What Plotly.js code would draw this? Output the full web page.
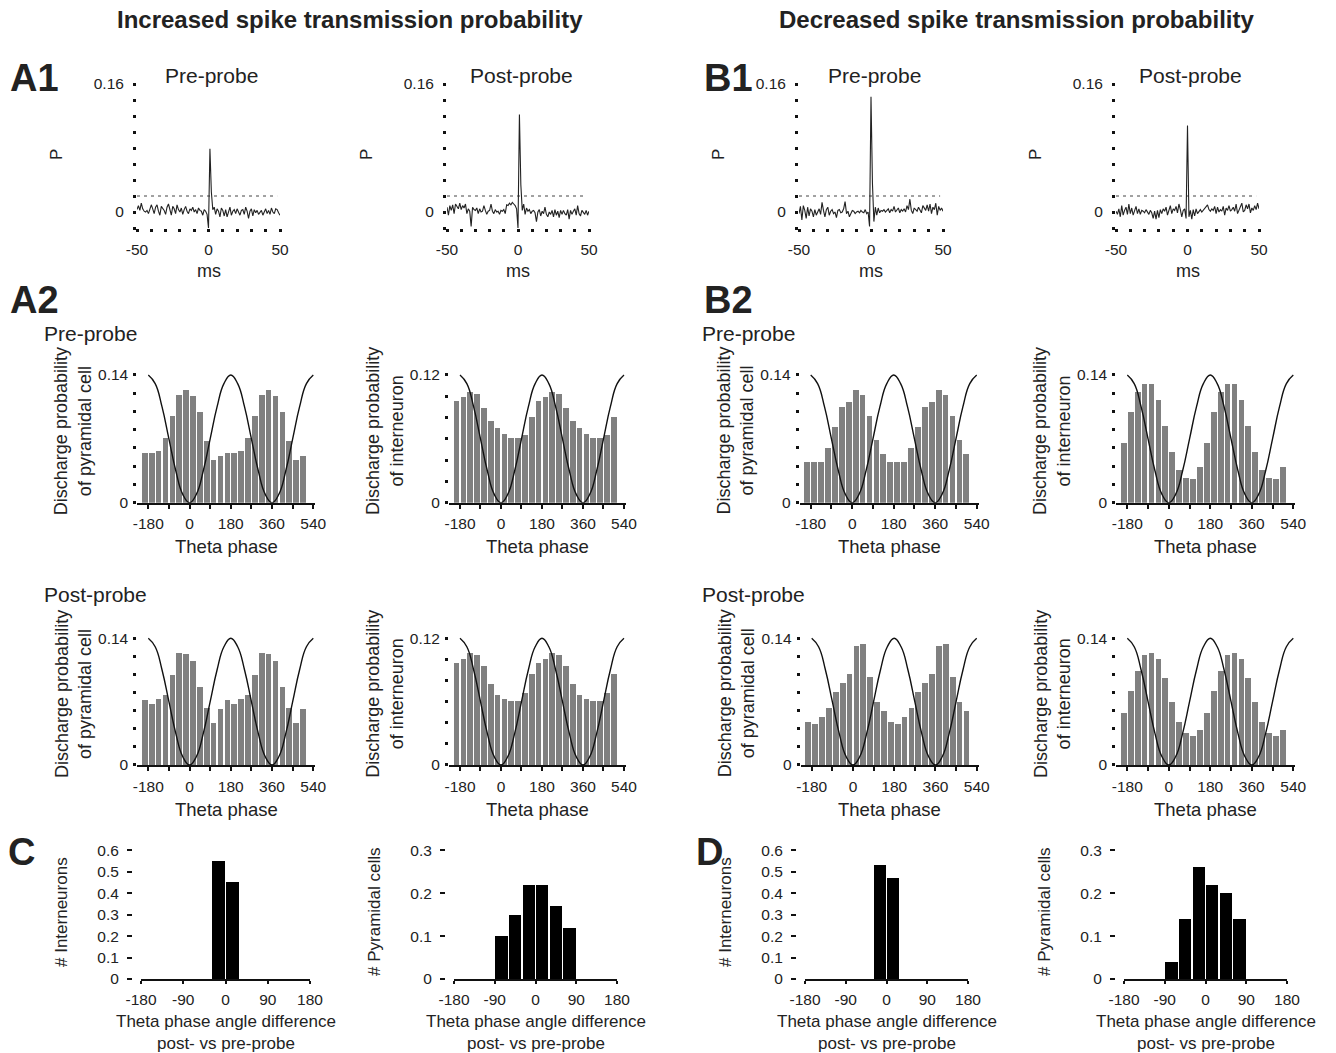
<!DOCTYPE html>
<html><head><meta charset="utf-8">
<script src="https://cdn.plot.ly/plotly-3.0.1.min.js"></script>
<style>html,body{margin:0;padding:0;background:#fff}#chart{width:1336px;height:1053px}</style>
</head><body><div id="chart"></div>
<script>
// ---------------- DATA ----------------
// Cross-correlogram lags (ms)
const lagMs = [-50,-49,-48,-47,-46,-45,-44,-43,-42,-41,-40,-39,-38,-37,-36,-35,-34,-33,-32,-31,-30,-29,-28,-27,-26,-25,-24,-23,-22,-21,-20,-19,-18,-17,-16,-15,-14,-13,-12,-11,-10,-9,-8,-7,-6,-5,-4,-3,-2,-1,0,1,2,3,4,5,6,7,8,9,10,11,12,13,14,15,16,17,18,19,20,21,22,23,24,25,26,27,28,29,30,31,32,33,34,35,36,37,38,39,40,41,42,43,44,45,46,47,48,49,50];
const ccgA1Pre = [0.003,0.008,0.002,0.011,0.004,0.001,0.000,0.002,-0.002,0.003,
  0.009,0.004,-0.002,0.006,0.009,0.001,-0.004,0.007,0.005,0.002,
  -0.003,0.006,0.010,0.001,-0.004,0.007,0.004,-0.002,0.009,0.003,
  0.000,0.005,-0.003,0.003,0.007,0.001,-0.002,0.004,0.002,0.006,
  0.000,0.003,-0.002,0.005,0.002,0.001,-0.004,0.003,0.001,-0.003,
  -0.020,
  0.079,0.025,0.003,0.006,-0.003,0.004,0.001,-0.006,0.005,0.002,
  -0.005,0.003,-0.006,0.002,0.006,-0.004,0.001,0.003,-0.002,0.004,
  0.000,-0.004,0.002,0.003,-0.003,0.006,0.001,-0.008,0.001,0.004,
  -0.005,0.003,-0.001,0.002,-0.003,-0.001,0.002,-0.004,0.001,0.004,
  -0.002,0.002,-0.003,0.005,0.000,-0.002,0.004,0.003,-0.001,-0.004];
const ccgA1Post = [0.006,-0.004,0.008,0.002,0.009,-0.002,0.010,0.006,0.004,0.011,
  0.003,0.008,0.005,0.010,-0.002,0.004,0.001,-0.018,0.006,0.003,
  0.002,0.005,-0.002,0.004,0.000,0.001,0.008,0.002,-0.003,0.001,
  0.002,0.010,0.001,-0.002,0.003,0.000,0.001,-0.003,0.002,0.001,
  0.003,-0.002,0.009,0.008,0.011,0.009,0.012,0.010,0.008,0.004,
  -0.020,
  0.122,0.034,0.002,0.010,-0.003,0.005,0.001,0.003,-0.002,0.001,
  0.002,-0.001,-0.012,0.000,0.003,-0.005,0.001,-0.002,0.006,-0.003,
  -0.006,0.000,-0.003,0.002,-0.006,0.003,-0.004,0.001,-0.007,0.002,
  -0.003,0.002,-0.002,-0.004,0.003,-0.009,0.002,-0.003,0.001,0.004,
  -0.004,0.008,-0.002,-0.005,0.002,0.000,-0.003,0.002,-0.004,0.001];
const ccgB1Pre = [-0.002,0.007,-0.010,0.008,0.002,-0.008,0.006,-0.005,0.004,0.001,
  -0.006,0.003,-0.004,0.000,0.004,-0.003,0.012,0.002,-0.006,0.003,
  0.006,-0.004,0.001,0.003,-0.002,0.000,-0.007,0.002,0.003,-0.001,
  0.000,0.004,0.013,-0.002,0.001,-0.006,-0.001,0.002,0.001,-0.002,
  0.000,0.001,-0.001,0.002,0.000,-0.001,0.003,-0.002,0.000,-0.018,
  0.144,
  0.036,-0.012,0.006,-0.004,0.005,-0.001,0.002,0.001,0.003,0.000,
  0.002,0.004,-0.001,0.003,0.001,0.007,0.000,0.002,0.005,-0.001,
  0.003,0.001,0.004,0.000,0.008,0.003,0.016,0.002,-0.002,0.005,
  0.003,0.001,0.006,0.002,-0.001,0.008,0.004,0.002,0.009,0.001,
  0.010,-0.002,0.006,0.003,0.011,-0.004,0.007,0.002,0.005,0.001];
const ccgB1Post = [0.001,-0.003,0.004,-0.006,0.008,-0.004,0.002,0.006,-0.003,0.010,
  -0.002,0.005,-0.004,0.003,0.007,-0.002,0.004,-0.003,0.002,0.001,
  -0.001,0.003,0.000,-0.003,0.002,-0.001,-0.008,0.001,-0.009,0.002,
  -0.007,0.003,-0.002,0.004,0.001,0.006,-0.004,0.003,0.008,-0.002,
  0.004,0.002,0.007,-0.001,0.010,0.003,-0.006,0.002,0.004,-0.008,
  0.108,
  -0.006,0.002,-0.009,0.003,-0.005,0.004,-0.002,0.001,0.003,0.000,
  0.002,0.004,0.006,0.009,0.003,0.001,0.004,0.002,0.007,-0.002,
  0.006,0.000,0.003,0.001,0.007,-0.004,0.005,0.002,0.008,0.001,
  0.003,0.006,0.001,0.010,-0.002,0.003,0.007,0.011,0.000,0.002,
  0.009,0.004,0.010,-0.001,0.005,0.002,0.008,0.003,0.011,0.004];
const ccgThreshold = 0.02;

// Theta phase bins (deg), two cycles shown (-195 ... 495, 30 deg bins)
const phaseBins = [-195,-165,-135,-105,-75,-45,-15,15,45,75,105,135,165,195,225,255,285,315,345,375,405,435,465,495];
// one-cycle discharge probabilities (12 bins), plotted twice
const pyrPreA   = [0.0548,0.0550,0.0570,0.0705,0.0954,0.1180,0.1240,0.1170,0.0998,0.0676,0.0468,0.0512];
const intPreA   = [0.0956,0.0990,0.1044,0.1022,0.0893,0.0771,0.0699,0.0648,0.0605,0.0605,0.0636,0.0802];
const pyrPostA  = [0.0718,0.0670,0.0726,0.0774,0.0995,0.1234,0.1223,0.1153,0.0866,0.0626,0.0468,0.0615];
const intPostA  = [0.0969,0.1000,0.1064,0.1042,0.0938,0.0764,0.0663,0.0628,0.0603,0.0609,0.0679,0.0859];
const pyrPreB   = [0.0450,0.0450,0.0450,0.0596,0.0826,0.1045,0.1100,0.1235,0.1180,0.0950,0.0687,0.0530];
const intPreB   = [0.0658,0.0990,0.1210,0.1300,0.1300,0.1130,0.0841,0.0552,0.0358,0.0267,0.0260,0.0395];
const pyrPostB  = [0.0479,0.0453,0.0534,0.0626,0.0810,0.0910,0.1006,0.1315,0.1337,0.0969,0.0700,0.0600];
const intPostB  = [0.0571,0.0818,0.1043,0.1216,0.1234,0.1168,0.0958,0.0693,0.0479,0.0357,0.0320,0.0387];
// Reference theta wave (normalised, trough at 0 and 360 deg)
const wavePhase = [-180,-150,-120,-90,-60,-30,0,30,60,90,120,150,180,210,240,270,300,330,360,390,420,450,480,510,540];
const waveLevel = [1,0.933,0.75,0.5,0.25,0.067,0,0.067,0.25,0.5,0.75,0.933,1,0.933,0.75,0.5,0.25,0.067,0,0.067,0.25,0.5,0.75,0.933,1];

// Phase-angle difference histograms (post- vs pre-probe)
const diffBins = [-165,-135,-105,-75,-45,-15,15,45,75,105,135,165];
const diffIntC = [0,0,0,0,0,0.55,0.45,0,0,0,0,0];
const diffPyrC = [0,0,0,0.10,0.15,0.22,0.22,0.17,0.12,0,0,0];
const diffIntD = [0,0,0,0,0,0.53,0.47,0,0,0,0,0];
const diffPyrD = [0,0,0,0.04,0.14,0.26,0.22,0.20,0.14,0,0,0];

// ---------------- LAYOUT HELPERS ----------------
const W = 1336, H = 1053;
const FONT = 'Liberation Sans, Arial, Helvetica, sans-serif';
const TICK = 15.5;
const fx = p => p / W;
const fy = p => 1 - p / H;
const layout = {
  width: W, height: H, margin: {l:0, r:0, t:0, b:0},
  paper_bgcolor: '#fff', plot_bgcolor: 'rgba(0,0,0,0)',
  showlegend: false, font: {family: FONT, size: TICK, color: '#222'},
  annotations: [], bargap: 0
};
const data = [];
let axN = 0;
function addAxes(xpx, ypx, xo, yo) {
  axN++;
  const s = axN === 1 ? '' : String(axN);
  layout['xaxis' + s] = Object.assign({
    domain: [fx(xpx[0]), fx(xpx[1])], anchor: 'y' + s,
    showgrid: false, zeroline: false, fixedrange: true,
    tickfont: {family: FONT, size: TICK, color: '#222'}, tickcolor: '#111'
  }, xo);
  layout['yaxis' + s] = Object.assign({
    domain: [fy(ypx[1]), fy(ypx[0])], anchor: 'x' + s,
    showgrid: false, zeroline: false, fixedrange: true,
    tickfont: {family: FONT, size: TICK, color: '#222'}, tickcolor: '#111'
  }, yo);
  return {x: 'x' + s, y: 'y' + s};
}
function ann(text, xp, yp, opts) {
  layout.annotations.push(Object.assign({
    text: text, x: fx(xp), y: fy(yp), xref: 'paper', yref: 'paper',
    showarrow: false, xanchor: 'center', yanchor: 'middle',
    font: {family: FONT, size: 18, color: '#222'}
  }, opts || {}));
}
const fnt = (s) => ({family: FONT, size: s, color: '#222'});
function labelTicks(vals, shown, fmt) {
  return vals.map(v => shown.some(s => Math.abs(s - v) < 1e-9) ? fmt(v) : '');
}

// ---------------- ROW 1: cross-correlograms ----------------
const ccgTickY = [-0.02,0,0.02,0.04,0.06,0.08,0.10,0.12,0.14,0.16];
const ccgTickX = [-50,-40,-30,-20,-10,0,10,20,30,40,50];
const ccgPanels = [
  {v: ccgA1Pre,  x: [137, 280],  title: 'Pre-probe'},
  {v: ccgA1Post, x: [447, 589],  title: 'Post-probe'},
  {v: ccgB1Pre,  x: [799, 943],  title: 'Pre-probe'},
  {v: ccgB1Post, x: [1116, 1259], title: 'Post-probe'}
];
ccgPanels.forEach(p => {
  const a = addAxes(p.x, [84, 228],
    {range: [-50, 50], tickmode: 'array', tickvals: ccgTickX,
     ticktext: labelTicks(ccgTickX, [-50, 0, 50], v => String(v)),
     ticks: 'outside', ticklen: 3, tickwidth: 3, showline: false, ticklabelstandoff: 4},
    {range: [-0.02, 0.16], tickmode: 'array', tickvals: ccgTickY,
     ticktext: labelTicks(ccgTickY, [0, 0.16], v => v === 0 ? '0' : '0.16'),
     ticks: 'outside', ticklen: 3, tickwidth: 3, showline: false, ticklabelstandoff: 6});
  data.push({type: 'scatter', mode: 'lines', x: [-50, 48], y: [ccgThreshold, ccgThreshold],
    xaxis: a.x, yaxis: a.y, line: {color: '#444', width: 1, dash: '3px,4px'}, hoverinfo: 'skip'});
  data.push({type: 'scatter', mode: 'lines', x: lagMs, y: p.v, xaxis: a.x, yaxis: a.y,
    line: {color: '#222', width: 1.1}, cliponaxis: false});
  const cx = (p.x[0] + p.x[1]) / 2;
  ann(p.title, cx + 3, 76, {font: fnt(21)});
  ann('ms', cx, 271);
  ann('P', p.x[0] - 80, 155, {textangle: -90, font: fnt(17)});
});

// ---------------- ROWS 2-3: theta phase histograms ----------------
function thetaPanel(vals, ymax, x180, x540, y0px, ymaxpx, ylab) {
  const ppd = (x540 - x180) / 720;
  const xl = x180 - 48 * ppd, xr = x540 + 8 * ppd;
  const top = ymaxpx - 0.012 * (y0px - ymaxpx);
  const yt = []; for (let k = 0; k <= Math.round(ymax / 0.02); k++) yt.push(+(k * 0.02).toFixed(2));
  const a = addAxes([xl, xr], [top, y0px],
    {range: [-228, 548], tickmode: 'array', tickvals: [-180,-90,0,90,180,270,360,450,540],
     ticktext: ['-180','','0','','180','','360','','540'],
     ticks: 'outside', ticklen: 4, tickwidth: 2, showline: true, linewidth: 2, linecolor: '#111',
     ticklabelstandoff: 2},
    {range: [0, ymax * 1.012], tickmode: 'array', tickvals: yt,
     ticktext: yt.map((v, i) => (i === 0 ? '0' : (i === yt.length - 1 ? ymax.toFixed(2) : ''))),
     ticks: 'outside', ticklen: 3, tickwidth: 3, showline: false, ticklabelstandoff: 2});
  data.push({type: 'bar', x: phaseBins, y: vals.concat(vals), width: 25,
    marker: {color: '#808080', line: {width: 0}}, xaxis: a.x, yaxis: a.y});
  data.push({type: 'scatter', mode: 'lines', x: wavePhase, y: waveLevel.map(w => w * ymax),
    line: {color: '#111', width: 1.4, shape: 'spline', smoothing: 1.3}, xaxis: a.x, yaxis: a.y, cliponaxis: false});
  const cx = (xl + xr) / 2;
  ann('Theta phase', cx, y0px + 44, {font: fnt(18.5)});
  ann(ylab, xl - 64, (ymaxpx + y0px) / 2 - 8, {textangle: -90, font: fnt(18)});
}
const labPyr = 'Discharge probability<br>of pyramidal cell';
const labInt = 'Discharge probability<br>of interneuron';
thetaPanel(pyrPreA, 0.14, 148.3, 313.3, 502.7, 375, labPyr);
thetaPanel(intPreA, 0.12, 460, 624, 502.7, 375, labInt);
thetaPanel(pyrPreB, 0.14, 810.7, 976.7, 502.7, 375, labPyr);
thetaPanel(intPreB, 0.14, 1127.3, 1293.3, 502.7, 375, labInt);
thetaPanel(pyrPostA, 0.14, 148.3, 313.3, 765, 638.3, labPyr);
thetaPanel(intPostA, 0.12, 460, 624, 765, 638.3, labInt);
thetaPanel(pyrPostB, 0.14, 811.7, 976.7, 765, 638.3, labPyr);
thetaPanel(intPostB, 0.14, 1127.3, 1293.3, 765, 638.3, labInt);

// ---------------- ROW 4: phase difference histograms ----------------
function diffPanel(vals, ymax, xm180, xp180, ylab) {
  const y0px = 979, ytop = 851;
  const yt = []; for (let k = 0; k <= Math.round(ymax / 0.1); k++) yt.push(+(k * 0.1).toFixed(1));
  const a = addAxes([xm180, xp180], [ytop - 2, y0px],
    {range: [-180, 180], tickmode: 'array', tickvals: [-180,-90,0,90,180],
     ticktext: ['-180','-90','0','90','180'], ticks: 'outside', ticklen: 3, tickwidth: 2,
     showline: true, linewidth: 1.5, linecolor: '#111', ticklabelstandoff: 3},
    {range: [0, ymax * 1.01], tickmode: 'array', tickvals: yt, ticktext: yt.map(v => v === 0 ? '0' : String(v)),
     ticks: 'outside', ticklen: 5, tickwidth: 2, showline: false, ticklabelstandoff: 5,
     anchor: 'free', position: fx(xm180 - 9)});
  data.push({type: 'bar', x: diffBins, y: vals, width: 27, marker: {color: '#000'}, xaxis: a.x, yaxis: a.y});
  const cx = (xm180 + xp180) / 2;
  ann('Theta phase angle difference<br>post- vs pre-probe', cx, 1032, {font: fnt(17)});
  ann(ylab, xm180 - 80, 912, {textangle: -90, font: fnt(17)});
}
diffPanel(diffIntC, 0.6, 141, 310, '# Interneurons');
diffPanel(diffPyrC, 0.3, 454, 617, '# Pyramidal cells');
diffPanel(diffIntD, 0.6, 805, 968, '# Interneurons');
diffPanel(diffPyrD, 0.3, 1124, 1287, '# Pyramidal cells');

// ---------------- Headings & panel letters ----------------
ann('<b>Increased spike transmission probability</b>', 350, 20, {font: fnt(24)});
ann('<b>Decreased spike transmission probability</b>', 1016, 20, {font: fnt(24)});
ann('<b>A1</b>', 8, 78, {xanchor: 'left', font: fnt(38)});
ann('<b>B1</b>', 702, 78, {xanchor: 'left', font: fnt(38)});
ann('<b>A2</b>', 8, 300, {xanchor: 'left', font: fnt(38)});
ann('<b>B2</b>', 702, 300, {xanchor: 'left', font: fnt(38)});
ann('<b>C</b>', 6, 852, {xanchor: 'left', font: fnt(38)});
ann('<b>D</b>', 694, 852, {xanchor: 'left', font: fnt(38)});
ann('Pre-probe', 42, 333, {xanchor: 'left', font: fnt(21)});
ann('Post-probe', 42, 594, {xanchor: 'left', font: fnt(21)});
ann('Pre-probe', 700, 333, {xanchor: 'left', font: fnt(21)});
ann('Post-probe', 700, 594, {xanchor: 'left', font: fnt(21)});

Plotly.newPlot('chart', data, layout, {staticPlot: true, displayModeBar: false});
</script></body></html>
